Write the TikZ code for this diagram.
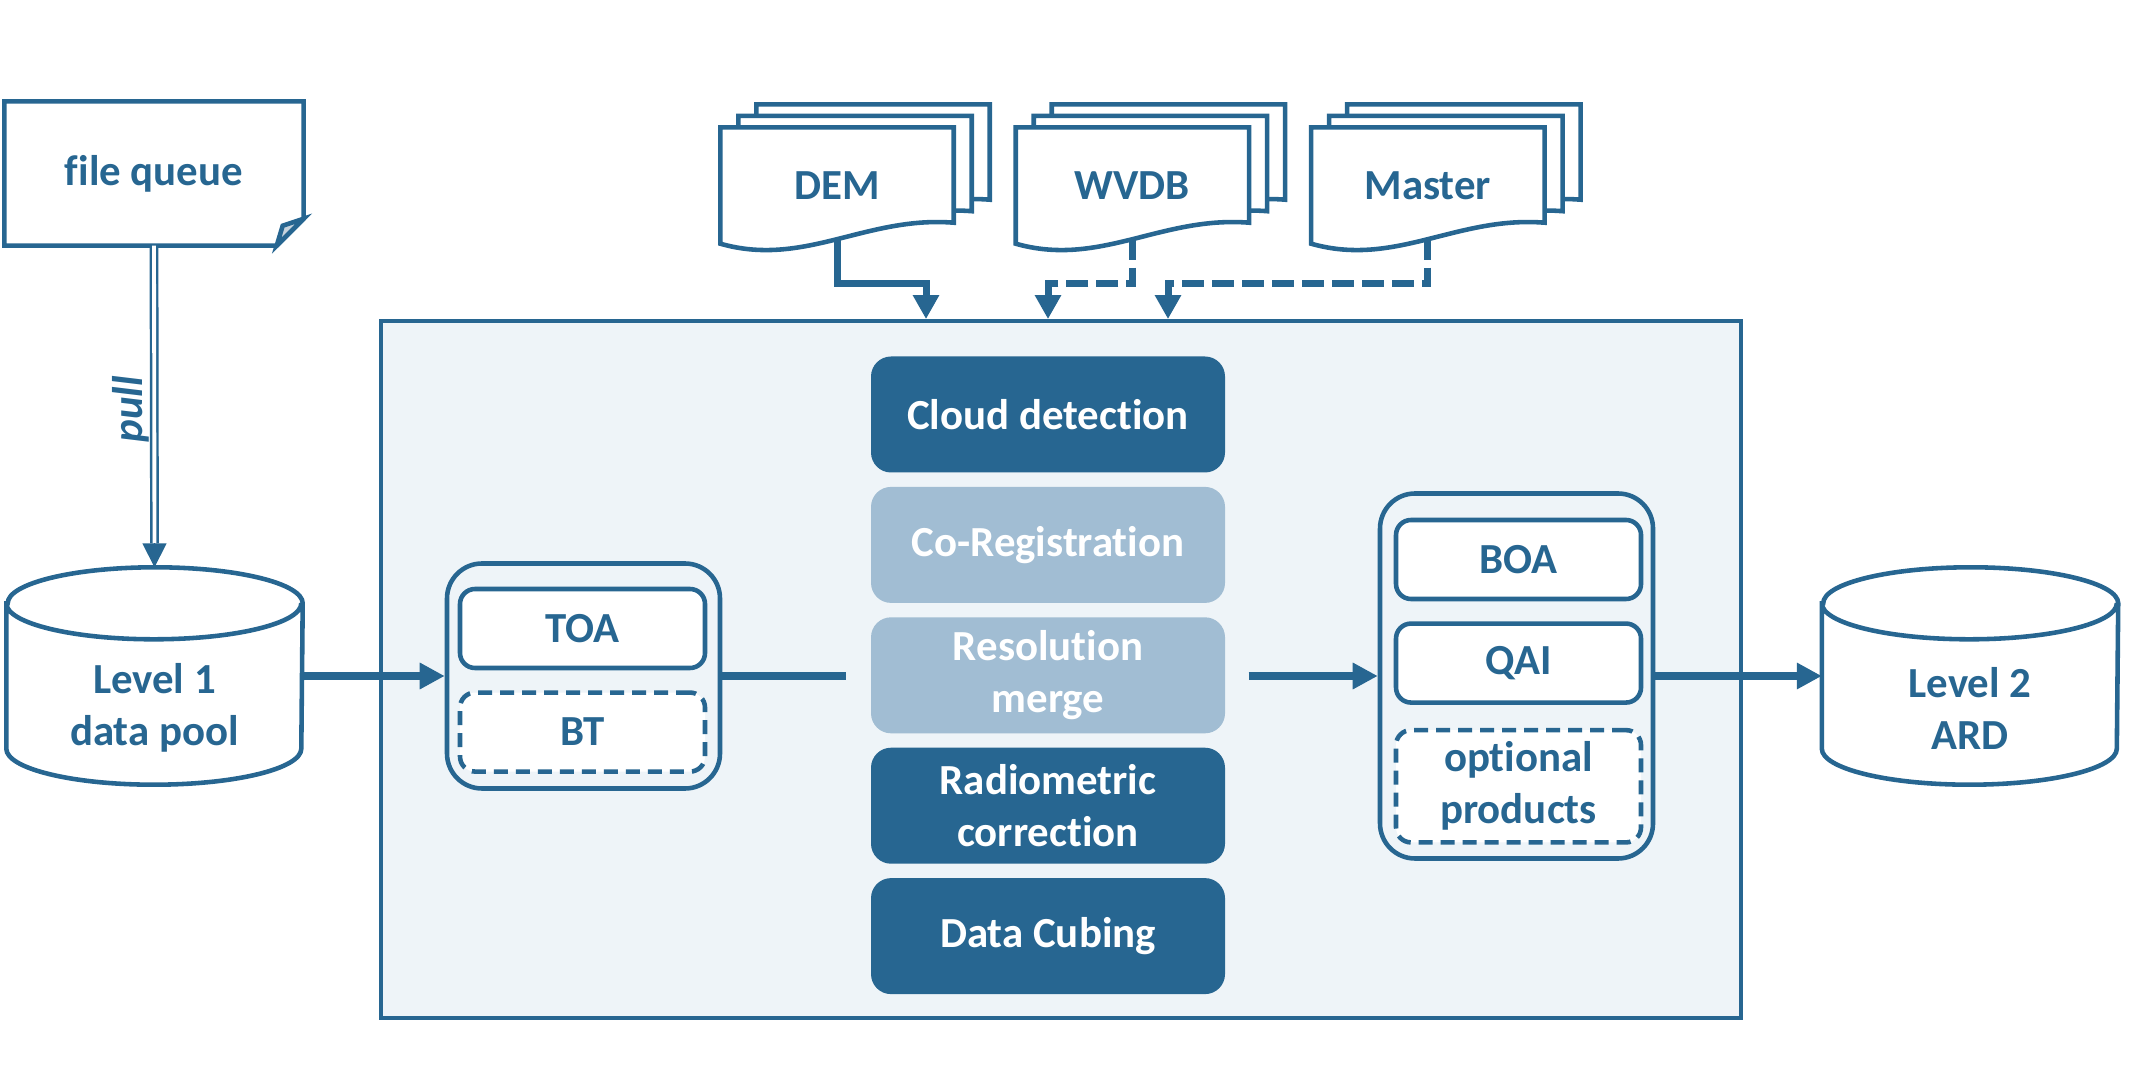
\documentclass[tikz,border=0pt]{standalone}
\usepackage{fontspec}
\setmainfont{Carlito}[Ligatures=NoCommon]
\usetikzlibrary{positioning,calc,arrows.meta}
\definecolor{ardblue}{RGB}{39,102,145}
\definecolor{steplight}{RGB}{161,189,211}
\definecolor{panel}{RGB}{238,244,248}
\definecolor{flap}{RGB}{199,211,221}
\pgfdeclarelayer{background}
\pgfsetlayers{background,main}

\begin{document}
\begin{tikzpicture}[x=0.1mm, y=0.1mm, node distance = 1.3mm,
  font=\fontsize{12.2}{14.8}\selectfont\bfseries,
  every node/.style = {text=ardblue, align=center},
  outline/.style = {draw=ardblue, line width=1.3pt},
  queue/.style = {minimum width=29.8mm, minimum height=14.3mm},
  db/.style = {minimum width=29.5mm, minimum height=21.6mm},
  doc/.style = {minimum width=23.2mm, minimum height=11.5mm},
  group/.style = {outline, rounded corners=3.5mm, minimum width=27.3mm},
  product/.style = {outline, fill=white, rounded corners=1.5mm,
    minimum width=24.5mm, minimum height=7.9mm},
  optional/.style = {product, dash pattern=on 1.4mm off 0.8mm},
  darkstep/.style = {fill=ardblue, text=white, rounded corners=2mm,
    minimum width=35.4mm, minimum height=11.6mm},
  lightstep/.style = {darkstep, fill=steplight},
  flow/.style = {draw=ardblue, line width=2.2pt},
  arr/.style = {flow, -{Triangle[width=2.5mm,length=2.5mm]}},
  feed/.style = {draw=ardblue, line width=2pt, shorten <=-0.6mm,
    -{Triangle[width=2.5mm,length=2.4mm]}},
  feedopt/.style = {feed, dash pattern=on 2.2mm off 0.8mm},
  pull/.style = {draw=ardblue, line width=0.7pt, double=white,
    double distance=1.1pt},
  pulltip/.style = {draw=ardblue, line width=0.5pt,
    -{Triangle[width=2.4mm,length=2.4mm]}},
  pull-lbl/.style = {rotate=90, anchor=south, inner sep=1pt,
    font=\fontsize{12.2}{14}\selectfont\bfseries\itshape}
  ]
  \useasboundingbox (0,0) rectangle (2138,1067);

  % processing frame
  \node (mainbox) [draw=ardblue, line width=1.1pt, fill=panel,
    minimum width=136mm, minimum height=69.7mm] at (1061,397.5) {};

  % inputs
  \node (fq) [queue] at (154,893.5) {file queue};
  \node (l1) [db] at (154.5,391) {};
  \node (l1-txt) at ($(l1)+(0,-32)$) {Level 1\\data pool};
  \node (dem) [doc] at (837,881.5) {DEM};
  \node (wvdb) [doc, right=6.2mm of dem] {WVDB};
  \node (master) [doc, right=6.2mm of wvdb] {Master};

  % level 1 products
  \node (toa-grp) [group, minimum height=22.5mm] at (583.5,391) {};
  \node (toa) [product] at (582.5,438.5) {TOA};
  \node (bt) [optional, below=2mm of toa] {BT};

  % processing steps
  \node (cloud) [darkstep] at (1048,652.5) {Cloud detection};
  \node (coreg) [lightstep, below=of cloud] {Co-Registration};
  \node (resmerge) [lightstep, below=of coreg] {Resolution\\merge};
  \node (radcor) [darkstep, below=of resmerge] {Radiometric\\correction};
  \node (cubing) [darkstep, below=of radcor] {Data Cubing};

  % level 2 products
  \node (boa-grp) [group, minimum height=36.5mm] at (1516.5,391) {};
  \node (boa) [product] at (1518.5,507.5) {BOA};
  \node (qai) [product, below=2mm of boa] {QAI};
  \node (opt) [optional, minimum height=10.7mm, below=2.3mm of qai]
    {optional\\products};
  \node (l2) [db] at (1970,391) {};
  \node (l2-txt) at ($(l2)+(0,-32)$) {Level 2\\ARD};

  \begin{pgfonlayer}{background}
    % data bases
    \foreach \db in {l1,l2}
      \draw[outline, fill=white]
        ($(\db.north west)+(0,-36)$) -- ($(\db.south west)+(0,36)$)
        arc[start angle=180, end angle=360, x radius=147.5, y radius=36]
        -- ($(\db.north east)+(0,-36)$)
        arc[start angle=0, end angle=180, x radius=147.5, y radius=36]
        -- cycle
        ($(\db.north west)+(0,-36)$)
        arc[start angle=180, end angle=360, x radius=147.5, y radius=36];
    % document stacks
    \foreach \d in {dem,wvdb,master}
      \foreach \s in {2,1,0}
        \draw[outline, fill=white]
          ($(\d.south west)+(18*\s,11.5*\s)$)
          .. controls +(84,-24) and +(-88,7) ..
          ($(\d.south east)+(18*\s,21+11.5*\s)$)
          -- ($(\d.north east)+(18*\s,11.5*\s)$)
          -- ($(\d.north west)+(18*\s,11.5*\s)$) -- cycle;
    % queue sheet
    \draw[outline, fill=white] (fq.north west) -- (fq.north east)
      -- ($(fq.south east)+(0,27)$) -- ($(fq.south east)+(-27,0)$)
      -- (fq.south west) -- cycle;
    \draw[outline, fill=flap] ($(fq.south east)+(-27,0)$)
      -- ($(fq.south east)+(-21,20)$) -- ($(fq.south east)+(0,27)$) -- cycle;
  \end{pgfonlayer}

  % connectors
  \coordinate (pull-end) at ($(l1.north)+(0,24)$);
  \draw[pull] (fq.south) -- node[pull-lbl, pos=0.55] {pull} (pull-end);
  \draw[pulltip] (pull-end) -- (l1.north);

  \coordinate (merge-in) at ($(toa-grp.east -| resmerge.west)+(-24,0)$);
  \coordinate (merge-out) at ($(boa-grp.west -| resmerge.east)+(23,0)$);
  \draw[arr] (l1.east) -- (toa-grp.west);
  \draw[flow] (toa-grp.east) -- (merge-in);
  \draw[arr] (merge-out) -- (boa-grp.west);
  \draw[arr] (boa-grp.east) -- (l2.west);

  \coordinate (dem-in) at ($(mainbox.north)+(-135,0)$);
  \coordinate (wvdb-in) at ($(mainbox.north)+(-13,0)$);
  \coordinate (master-in) at ($(mainbox.north)+(107,0)$);
  \draw[feed] (dem.south) -- ++(0,-40) -| (dem-in);
  \draw[feedopt] (wvdb.south) -- ++(0,-40) -| (wvdb-in);
  \draw[feedopt] (master.south) -- ++(0,-40) -| (master-in);
\end{tikzpicture}
\end{document}
